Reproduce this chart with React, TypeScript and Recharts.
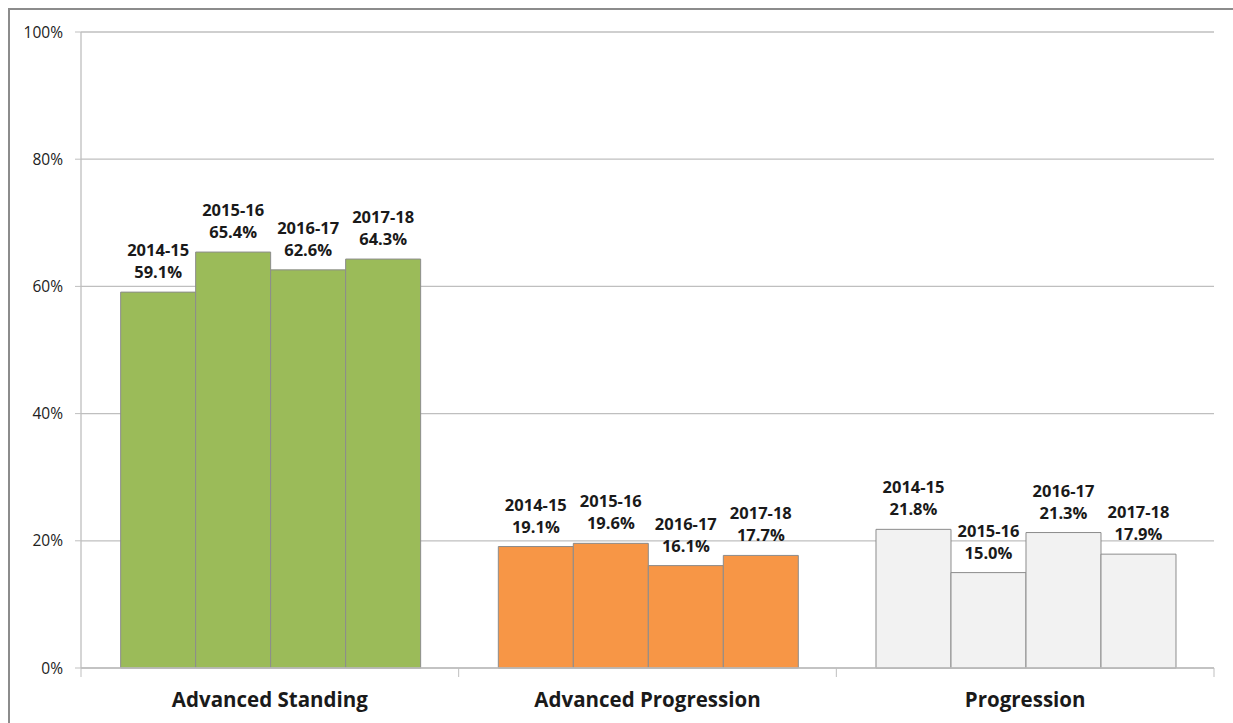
import React from 'react';
import {
  BarChart,
  Bar,
  XAxis,
  YAxis,
  CartesianGrid,
  LabelList,
  Cell
} from 'recharts';

// categories and yearly values (percent)
const categories = ['Advanced Standing', 'Advanced Progression', 'Progression'];
const years = ['2014-15', '2015-16', '2016-17', '2017-18'];
const y2014 = [59.1, 19.1, 21.8];
const y2015 = [65.4, 19.6, 15.0];
const y2016 = [62.6, 16.1, 21.3];
const y2017 = [64.3, 17.7, 17.9];
const yTicks = [0, 20, 40, 60, 80, 100];

const categoryColors = ['#9BBB59', '#F79646', '#F2F2F2'];
const seriesValues = [y2014, y2015, y2016, y2017];

const data = categories.map((name, i) => {
  const row: any = { name };
  years.forEach((yr, j) => {
    row[yr] = seriesValues[j][i];
  });
  return row;
});

const W = 1233;
const H = 723;
const M = { top: 32, right: 19, left: 0, bottom: 0 };
const Y_W = 81;
const band = (W - M.left - M.right - Y_W) / categories.length;

const CategoryTick = ({ x, y, payload, index }: any) => {
  return (
    <g>
      <line x1={x + band / 2} x2={x + band / 2} y1={y - 8} y2={y + 1} stroke="#bfbfbf" />
      {index === 0 && (
        <line x1={x - band / 2} x2={x - band / 2} y1={y - 8} y2={y + 1} stroke="#bfbfbf" />
      )}
      <text
        x={x}
        y={y + 31}
        textAnchor="middle"
        fill="#1a1a1a"
        fontSize={20.5}
        fontWeight="bold"
        fontFamily="Open Sans, sans-serif"
      >
        {payload.value}
      </text>
    </g>
  );
};

const makeLabel = (year: string) => (props: any) => {
  const { x, y, width, value } = props;
  const cx = x + width / 2;
  return (
    <text
      textAnchor="middle"
      fill="#1a1a1a"
      fontSize={16.5}
      fontWeight="bold"
      fontFamily="Open Sans, sans-serif"
    >
      <tspan x={cx} y={y - 36}>{year}</tspan>
      <tspan x={cx} y={y - 14}>{`${value.toFixed(1)}%`}</tspan>
    </text>
  );
};

export default function App() {
  return (
    <div style={{ position: 'absolute', left: 0, top: 0, width: W, height: H, background: '#fff' }}>
      <div
        style={{
          position: 'absolute',
          left: 8,
          top: 8,
          width: W,
          height: H,
          borderLeft: '2px solid #8c8c8c',
          borderTop: '2px solid #8c8c8c'
        }}
      />
      <BarChart
        width={W}
        height={H}
        data={data}
        margin={M}
        barGap={0}
        barCategoryGap="10.5%"
        style={{ position: 'absolute', left: 0, top: 0 }}
      >
        <CartesianGrid vertical={false} stroke="#bfbfbf" strokeWidth={1.3} />
        <XAxis
          dataKey="name"
          height={55}
          axisLine={{ stroke: '#bfbfbf', strokeWidth: 1.3 }}
          tickLine={false}
          tick={<CategoryTick />}
          interval={0}
        />
        <YAxis
          width={Y_W}
          domain={[0, 100]}
          ticks={yTicks}
          tickFormatter={(v) => `${v}%`}
          axisLine={{ stroke: '#bfbfbf', strokeWidth: 1.3 }}
          tickLine={{ stroke: '#bfbfbf' }}
          tickSize={6}
          tickMargin={12}
          tick={{ fill: '#222', fontSize: 15.5, fontFamily: 'Open Sans, sans-serif' }}
        />
        {years.map((yr) => (
          <Bar key={yr} dataKey={yr} stroke="#8c8c8c" strokeWidth={1} isAnimationActive={false}>
            {data.map((d, i) => (
              <Cell key={d.name} fill={categoryColors[i]} />
            ))}
            <LabelList dataKey={yr} content={makeLabel(yr)} />
          </Bar>
        ))}
      </BarChart>
    </div>
  );
}
